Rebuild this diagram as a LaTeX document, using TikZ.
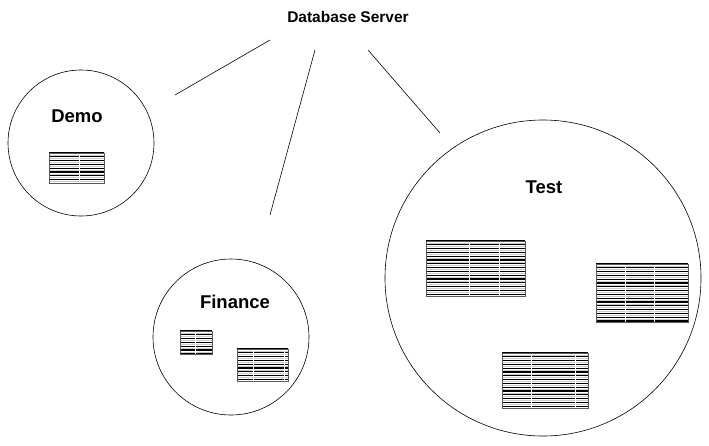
\documentclass[tikz,border=0pt]{standalone}
\usepackage{fontspec}
\setmainfont{Liberation Sans}
\newcommand\dbtab[5]{%
  \fill[white] (#1,#2) rectangle (#3,#4);
  \pgfmathsetmacro\rows{int(floor((#4-#2)/3.8))}
  \foreach \k in {0,...,\rows}{
    \pgfmathsetmacro\yy{#2+\k*3.8}
    \draw[black,line width=1.1pt] (#1,\yy) -- (#3,\yy);
    \pgfmathsetmacro\yg{\yy+1.9}
    \ifdim\yg pt<#4pt \draw[gray!40,line width=0.8pt] (#1,\yg) -- (#3,\yg);\fi
  }
  \foreach \vx in {#5}{\draw[white,line width=1pt] (\vx,#2) -- (\vx,#4);}
  \draw[gray!70!black,line width=1pt] (#1,#2) rectangle (#3,#4);
}
\tikzset{
  grp/.style={draw,circle,line width=0.6pt},
  ttl/.style={font=\bfseries\fontsize{15.5}{18}\selectfont},
  lbl/.style={font=\bfseries\fontsize{18.5}{22}\selectfont},
  link/.style={line width=0.6pt}
}
\begin{document}
\begin{tikzpicture}[x=1pt,y=-1pt]
\useasboundingbox (0,0) rectangle (709,445);
\node[ttl] (title) at (348,17) {Database Server};
\node[grp,minimum size=146pt] (demo) at (81,143) {};
\node[grp,minimum size=156pt] (finance) at (231,337) {};
\node[grp,minimum size=316pt] (test) at (543,278) {};
\node[lbl] (demol) at (77,116) {Demo};
\node[lbl] (financel) at (235,302) {Finance};
\node[lbl] (testl) at (544,187) {Test};
\coordinate (a1) at (175,95); \coordinate (a2) at (270,40);
\coordinate (b1) at (315,50); \coordinate (b2) at (270,215);
\coordinate (c1) at (368,50); \coordinate (c2) at (440,133);
\draw[link] (a1) -- (a2);
\draw[link] (b1) -- (b2);
\draw[link] (c1) -- (c2);
\dbtab{49}{153}{104}{183}{79}
\dbtab{180}{331}{212}{354}{195}
\dbtab{237}{349}{288}{381}{253,284}
\dbtab{426}{241}{525}{296}{469,499}
\dbtab{596}{264}{688}{322}{625,654}
\dbtab{502}{353}{588}{408}{531,575}
\end{tikzpicture}
\end{document}
